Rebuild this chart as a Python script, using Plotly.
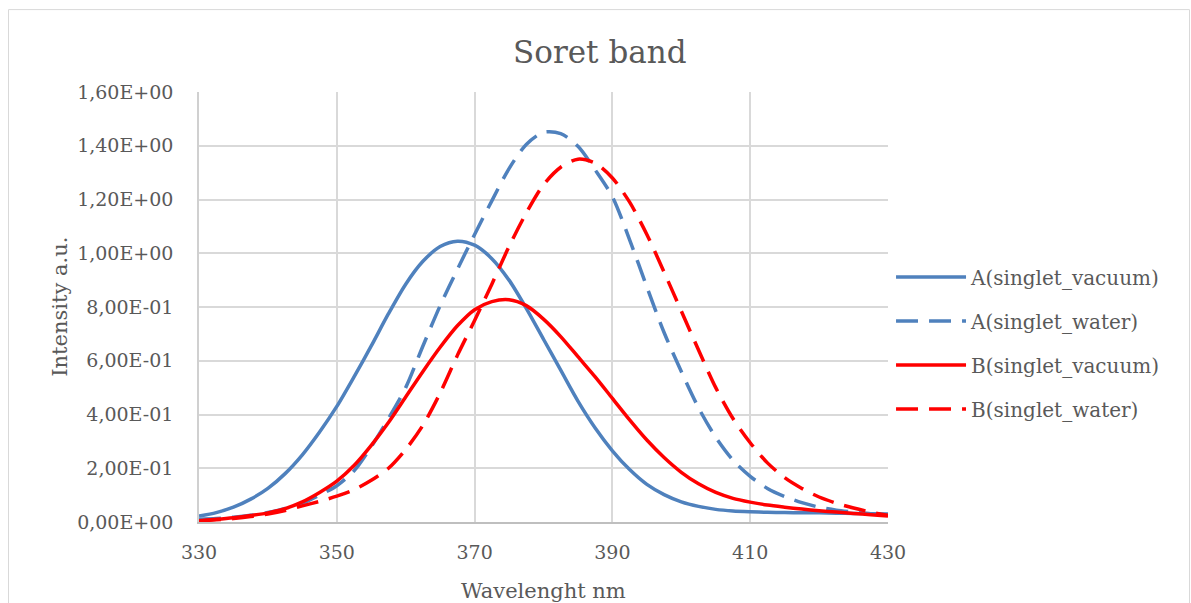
import plotly.graph_objects as go

wavelength = [330, 332.5, 335, 337.5, 340, 342.5, 345, 347.5, 350, 352.5,
              355, 357.5, 360, 362.5, 365, 367.5, 370, 372.5, 375, 377.5,
              380, 382.5, 385, 387.5, 390, 392.5, 395, 397.5, 400, 402.5,
              405, 407.5, 410, 412.5, 415, 417.5, 420, 422.5, 425, 427.5, 430]

a_vacuum = [0.022, 0.035, 0.055, 0.085, 0.125, 0.18, 0.25, 0.335, 0.43, 0.54,
            0.655, 0.775, 0.885, 0.97, 1.025, 1.045, 1.03, 0.98, 0.90, 0.795,
            0.68, 0.565, 0.45, 0.35, 0.265, 0.195, 0.14, 0.102, 0.075, 0.058,
            0.047, 0.041, 0.038, 0.036, 0.035, 0.034, 0.034, 0.033, 0.032, 0.031, 0.03]

a_water = [0.01, 0.013, 0.018, 0.025, 0.035, 0.05, 0.07, 0.10, 0.135, 0.19,
           0.28, 0.385, 0.50, 0.655, 0.805, 0.94, 1.07, 1.195, 1.315, 1.405,
           1.45, 1.445, 1.398, 1.31, 1.21, 1.05, 0.875, 0.705, 0.56, 0.425,
           0.315, 0.23, 0.17, 0.125, 0.095, 0.072, 0.055, 0.044, 0.037, 0.031, 0.027]

b_vacuum = [0.005, 0.01, 0.016, 0.024, 0.034, 0.05, 0.075, 0.11, 0.152, 0.21,
            0.285, 0.37, 0.465, 0.56, 0.65, 0.73, 0.79, 0.82, 0.827, 0.805,
            0.755, 0.69, 0.615, 0.54, 0.46, 0.38, 0.305, 0.24, 0.185, 0.142,
            0.11, 0.088, 0.074, 0.063, 0.055, 0.048, 0.042, 0.037, 0.032, 0.027, 0.022]

b_water = [0.004, 0.008, 0.013, 0.02, 0.03, 0.043, 0.06, 0.077, 0.096, 0.12,
           0.155, 0.20, 0.27, 0.36, 0.48, 0.62, 0.75, 0.885, 1.025, 1.15,
           1.255, 1.32, 1.35, 1.335, 1.28, 1.19, 1.07, 0.93, 0.785, 0.64,
           0.50, 0.385, 0.295, 0.22, 0.165, 0.125, 0.093, 0.07, 0.052, 0.037, 0.025]

series_names = ["A(singlet_vacuum)", "A(singlet_water)", "B(singlet_vacuum)", "B(singlet_water)"]

y_tickvals = [0, 0.2, 0.4, 0.6, 0.8, 1.0, 1.2, 1.4, 1.6]
y_ticktext = ["0,00E+00", "2,00E-01", "4,00E-01", "6,00E-01", "8,00E-01",
              "1,00E+00", "1,20E+00", "1,40E+00", "1,60E+00"]
x_tickvals = [330, 350, 370, 390, 410, 430]

BLUE = "#4F81BD"
RED = "#FF0000"
TEXT = "#595959"
GRID = "#D9D9D9"
FONT = "DejaVu Serif"
DASH = "22px,11px"

fig = go.Figure()
series = [
    (a_vacuum, BLUE, "solid"),
    (a_water, BLUE, DASH),
    (b_vacuum, RED, "solid"),
    (b_water, RED, DASH),
]
for i, (vals, color, dash) in enumerate(series):
    fig.add_trace(go.Scatter(
        x=wavelength, y=vals, mode="lines", name=series_names[i],
        legendgroup=f"g{i}",
        line=dict(color=color, width=3.5, dash=dash, shape="spline", smoothing=0.8),
    ))

fig.update_layout(
    width=1191, height=603,
    margin=dict(l=199, r=303, t=92, b=81),
    paper_bgcolor="white", plot_bgcolor="white",
    font=dict(family=FONT, color=TEXT, size=19),
    showlegend=True,
    legend=dict(
        x=1.0044, xanchor="left", y=0.615, yanchor="top",
        font=dict(family=FONT, size=20, color=TEXT),
        itemwidth=70, tracegroupgap=15, traceorder="grouped",
        bgcolor="rgba(0,0,0,0)",
    ),
    xaxis=dict(
        range=[330, 430], tickvals=x_tickvals, showgrid=True, gridcolor=GRID,
        gridwidth=1.5, zeroline=False, showline=True, linecolor="#BFBFBF", linewidth=1.5,
        ticks="", tickfont=dict(family=FONT, size=19, color=TEXT),
        ticklabelstandoff=12,
    ),
    yaxis=dict(
        range=[0, 1.6], tickvals=y_tickvals, ticktext=y_ticktext, showgrid=True,
        gridcolor=GRID, gridwidth=1.5, zeroline=False, showline=True,
        linecolor="#D0D0D0", linewidth=1.5, ticks="",
        tickfont=dict(family=FONT, size=19, color=TEXT),
        ticklabelstandoff=20,
    ),
    shapes=[dict(
        type="rect", xref="paper", yref="paper",
        x0=(8.5 - 199) / 689, x1=(1189.5 - 199) / 689,
        y0=-0.25, y1=(522.5 - 9.5) / 430.5,
        line=dict(color=GRID, width=1), fillcolor="rgba(0,0,0,0)", layer="below",
    )],
    annotations=[
        dict(text="Soret band", xref="paper", yref="paper",
             x=(600 - 199) / 689, y=(522.5 - 52) / 430.5, xanchor="center", yanchor="middle",
             showarrow=False, font=dict(family=FONT, size=31, color=TEXT)),
        dict(text="Intensity a.u.", xref="paper", yref="paper",
             x=(60 - 199) / 689, y=(522.5 - 307) / 430.5, xanchor="center", yanchor="middle",
             textangle=-90, showarrow=False, font=dict(family=FONT, size=21, color=TEXT)),
        dict(text="Wavelenght nm", xref="paper", yref="paper",
             x=(543 - 199) / 689, y=(522.5 - 592) / 430.5, xanchor="center", yanchor="middle",
             showarrow=False, font=dict(family=FONT, size=21, color=TEXT)),
    ],
)

fig.write_html("out.html")
